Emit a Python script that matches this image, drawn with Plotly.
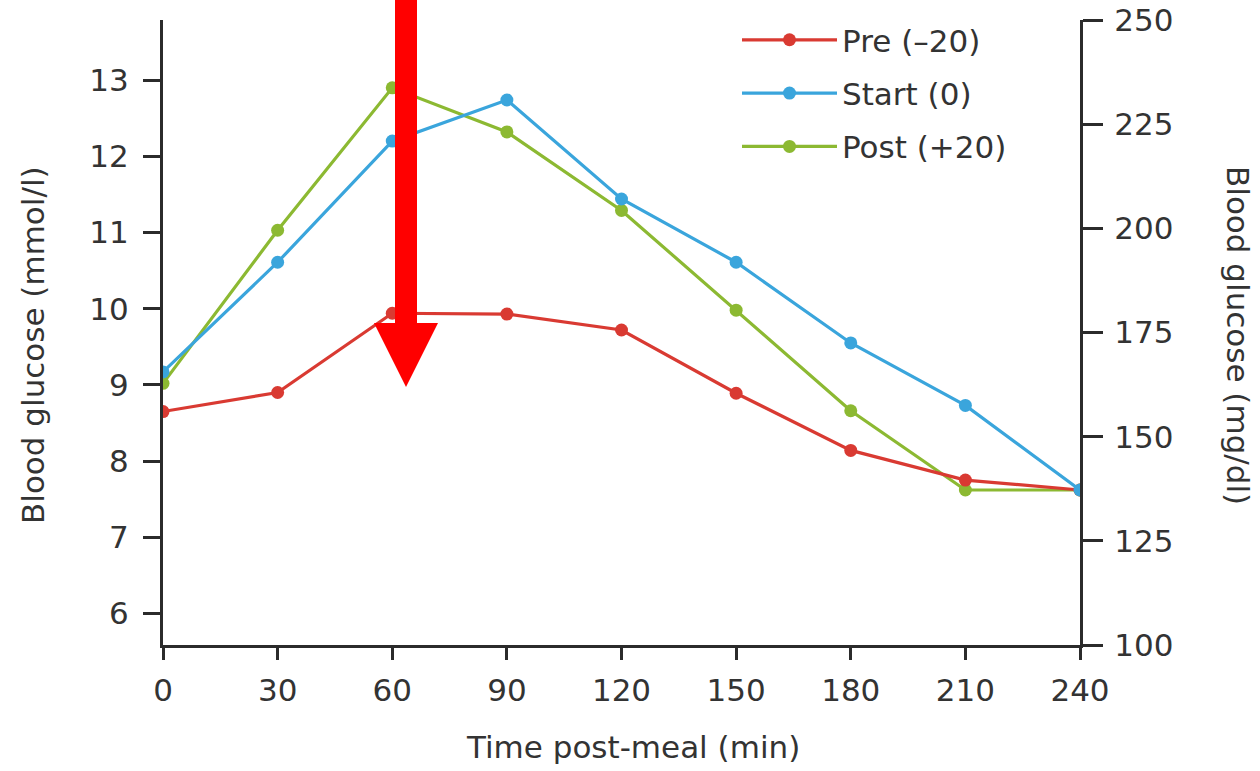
import plotly.graph_objects as go

time_min = [0, 30, 60, 90, 120, 150, 180, 210, 240]
pre_vals = [8.65, 8.90, 9.94, 9.93, 9.72, 8.89, 8.14, 7.75, 7.62]
start_vals = [9.17, 10.61, 12.20, 12.74, 11.44, 10.61, 9.55, 8.73, 7.62]
post_vals = [9.02, 11.03, 12.90, 12.32, 11.29, 9.98, 8.66, 7.62, 7.62]
series_names = ["Pre (\u201320)", "Start (0)", "Post (+20)"]
colors = ["#d93a32", "#3aa5dc", "#8cb932"]

left_ticks = [6, 7, 8, 9, 10, 11, 12, 13]
right_ticks = [100, 125, 150, 175, 200, 225, 250]
x_ticks = [0, 30, 60, 90, 120, 150, 180, 210, 240]

FONT = "DejaVu Sans, Liberation Sans, Arial, sans-serif"
FS = 31
TXT = "#333333"
AX = "#2b2b2b"

fig = go.Figure()
# draw order: post, pre, start (start on top) ; legend order via legendrank
for name, vals, col, rank in [
    (series_names[2], post_vals, colors[2], 3),
    (series_names[0], pre_vals, colors[0], 1),
    (series_names[1], start_vals, colors[1], 2),
]:
    fig.add_trace(go.Scatter(
        x=time_min, y=vals, name=name, mode="lines+markers",
        line=dict(color=col, width=3.2),
        marker=dict(color=col, size=13),
        legendgroup=name, legendrank=rank,
    ))
# empty trace to activate the right-hand mg/dl axis
fig.add_trace(go.Scatter(x=[], y=[], yaxis="y2", showlegend=False, hoverinfo="skip"))

# plot area in pixels
W, H = 1260, 771
L, R, T, B = 163, 1080, 20, 645

fig.update_layout(
    width=W, height=H,
    margin=dict(l=L, r=W - R, t=T, b=H - B, autoexpand=False),
    plot_bgcolor="white", paper_bgcolor="white",
    font=dict(family=FONT, size=FS, color=TXT),
    showlegend=True,
    legend=dict(
        x=(737 - L) / (R - L), y=1.011, xanchor="left", yanchor="top",
        bgcolor="rgba(0,0,0,0)", itemwidth=95, tracegroupgap=10,
        font=dict(size=FS, color=TXT),
    ),
    xaxis=dict(
        range=[0, 240], tickvals=x_ticks, showgrid=False, zeroline=False,
        showline=True, linecolor=AX, linewidth=3, automargin=False,
        ticks="outside", ticklen=12, tickwidth=3, tickcolor=AX,
        ticklabelstandoff=4,
        tickfont=dict(size=FS, color=TXT),
    ),
    yaxis=dict(
        range=[5.585, 13.79], tickvals=left_ticks, showgrid=False, zeroline=False,
        showline=True, linecolor=AX, linewidth=3, automargin=False,
        ticks="outside", ticklen=17, tickwidth=3, tickcolor=AX,
        ticklabelstandoff=8,
        tickfont=dict(size=FS, color=TXT),
    ),
    yaxis2=dict(
        range=[100, 250], tickvals=right_ticks, overlaying="y", side="right",
        showgrid=False, zeroline=False, automargin=False,
        showline=True, linecolor=AX, linewidth=3,
        ticks="outside", ticklen=20, tickwidth=3, tickcolor=AX,
        ticklabelstandoff=5,
        tickfont=dict(size=FS, color=TXT),
    ),
)

def px(xp):
    return (xp - L) / (R - L)

def py(yp):
    return (B - yp) / (B - T)

# axis titles as annotations
fig.add_annotation(text="Blood glucose (mmol/l)", textangle=-90,
                   xref="paper", yref="paper", xanchor="center", yanchor="middle",
                   x=px(33), y=py(345),
                   showarrow=False, font=dict(size=FS, color=TXT))
fig.add_annotation(text="Blood glucose (mg/dl)", textangle=90,
                   xref="paper", yref="paper", xanchor="center", yanchor="middle",
                   x=px(1238), y=py(335),
                   showarrow=False, font=dict(size=FS, color=TXT))
fig.add_annotation(text="Time post-meal (min)",
                   xref="paper", yref="paper", xanchor="center", yanchor="middle",
                   x=px(633), y=py(747),
                   showarrow=False, font=dict(size=FS, color=TXT))

# red arrow overlay
fig.add_shape(type="rect", xref="paper", yref="paper",
              x0=px(395), x1=px(417), y0=py(326), y1=py(-5),
              fillcolor="#ff0000", line=dict(width=0), layer="above")
fig.add_shape(type="path", xref="paper", yref="paper",
              path=f"M {px(374)},{py(323)} L {px(438)},{py(323)} L {px(406)},{py(387)} Z",
              fillcolor="#ff0000", line=dict(width=0), layer="above")

fig.write_html("out.html", config={"displayModeBar": False},
               post_script="document.body.style.margin='0';document.body.style.overflow='hidden';")
